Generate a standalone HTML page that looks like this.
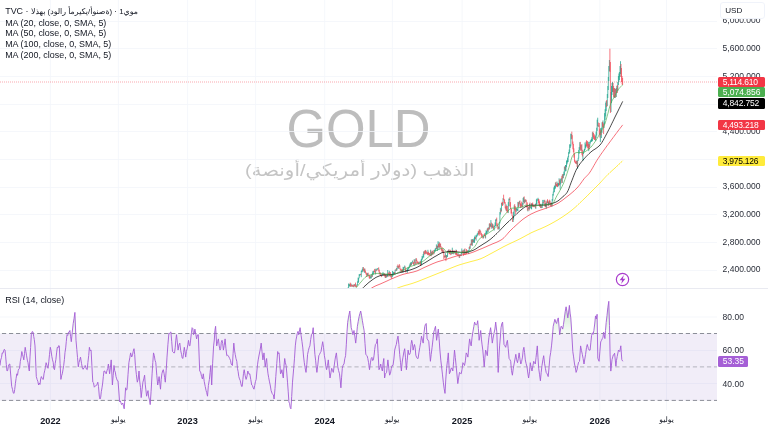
<!DOCTYPE html><html lang="ar"><head><meta charset="utf-8"><title>GOLD</title><style>
html,body{margin:0;padding:0;background:#fff}
body{width:768px;height:429px;overflow:hidden;position:relative;font-family:"Liberation Sans","DejaVu Sans",sans-serif;color:#131722}
.t{position:absolute;white-space:nowrap;line-height:1;will-change:opacity}
.ax{font-size:8.5px;left:722.6px;color:#2a2e39}
.lb{will-change:opacity;position:absolute;left:717.6px;width:47.5px;border-radius:1.5px;font-size:8.5px;line-height:1;color:#fff;box-sizing:border-box;padding-left:5.1px;white-space:nowrap}
.leg{font-size:8.93px;left:5.2px;color:#131722}
.tm{font-size:8.5px;color:#131722;transform:translateX(-50%)}
.tm b{font-weight:700;font-size:9.2px}
.wm{color:#bdbdbd;left:0;width:717px;text-align:center}
</style></head><body>
<div class="t wm" style="top:102.1px;font-size:50.9px;transform:scaleY(1.06);transform-origin:50% 0">GOLD</div>
<div class="t wm" dir="rtl" style="top:162.4px;left:1.2px;font-size:19.85px;color:#c4c4c4;transform:scaleY(0.87);transform-origin:50% 0">الذهب (دولار أمريكي/أونصة)</div>
<svg width="768" height="429" viewBox="0 0 768 429" style="position:absolute;left:0;top:0"><defs><clipPath id="cm"><rect x="0" y="0" width="717" height="288"/></clipPath><clipPath id="cr"><rect x="0" y="289" width="717" height="121"/></clipPath><clipPath id="c70"><rect x="0" y="289" width="717" height="44.6"/></clipPath><linearGradient id="gob" gradientUnits="userSpaceOnUse" x1="0" y1="300" x2="0" y2="333.5"><stop offset="0" stop-color="#4caf50" stop-opacity="0.35"/><stop offset="1" stop-color="#4caf50" stop-opacity="0.04"/></linearGradient></defs><path d="M50.4 0V410M118.4 0V410M187.6 0V410M255.6 0V410M324.7 0V410M392.4 0V410M462.1 0V410M529.8 0V410M599.8 0V410M666.5 0V410M0 21.5H717M0 48.5H717M0 76.5H717M0 104.5H717M0 131.5H717M0 159.5H717M0 187.5H717M0 214.5H717M0 242.5H717M0 270.5H717M0 317H717M0 350.5H717M0 383.5H717" stroke="#f3f5fa" stroke-width="0.8" fill="none"/><path d="M0 288.5H768" stroke="#e6e8ef" stroke-width="0.9"/><rect x="0" y="333.6" width="717" height="67" fill="#7e57c2" fill-opacity="0.11"/><path d="M0 333.5H717" stroke="#787b86" stroke-width="1" stroke-dasharray="4.2 2.85" stroke-dashoffset="5.1" stroke-opacity="0.85"/><path d="M0 366.9H717" stroke="#787b86" stroke-width="1" stroke-dasharray="4.2 2.85" stroke-dashoffset="5.1" stroke-opacity="0.5"/><path d="M0 400.4H717" stroke="#787b86" stroke-width="1" stroke-dasharray="4.2 2.85" stroke-dashoffset="5.1" stroke-opacity="0.85"/><g clip-path="url(#c70)"><path d="M0 365.5 L0.7 360 L1.5 357.5 L2.2 352.9 L2.9 353.3 L3.6 350.9 L4.3 349.3 L5 350 L5.7 356.9 L6.3 364.5 L7 371 L7.7 370.5 L8.4 366.2 L9.1 364.3 L9.8 364 L10.8 376 L11.7 386.4 L12.5 389.3 L13.2 392.8 L14 393.4 L14.7 389.6 L15.4 383.5 L16.1 378.4 L16.8 373.8 L17.5 375.3 L18.2 370.7 L18.9 368.8 L19.6 368.3 L20.3 361.4 L21.1 357.2 L21.8 351.5 L22.5 354.5 L23.1 356.7 L23.8 359.9 L24.5 353.5 L25.2 347.3 L25.9 351.5 L26.6 355.8 L27.3 360.1 L28 362.7 L28.6 367.1 L29.3 371 L30 356.9 L30.6 347.6 L31.3 334.7 L32.1 331.7 L33 331.9 L33.7 336.4 L34.3 339.6 L35 345.9 L36.3 376.6 L37.1 379.4 L37.8 381.3 L38.6 385 L39.3 383.1 L40 384.4 L40.7 378.6 L41.4 376.6 L42.3 378.9 L43.3 379.4 L44 373.8 L44.7 370.7 L45.4 367.6 L46.1 362.7 L47 365.4 L48 368.3 L48.8 361.7 L49.5 354.4 L50.3 347.3 L51 350.4 L51.8 356.3 L52.5 359.9 L53.2 362.3 L53.8 368.5 L54.5 369.7 L55.2 363.5 L55.9 359.3 L56.6 352.9 L57.3 347.3 L58 347.9 L58.6 345.7 L59.3 345.9 L60.1 363.7 L60.9 379.4 L61.6 375.8 L62.3 373.8 L63 369.7 L63.7 365.5 L64.4 359.5 L65 352.3 L65.7 347.9 L66.3 341.4 L67 334.7 L67.7 335.5 L68.5 332.2 L69.2 332.2 L69.9 330.5 L70.6 336.7 L71.3 341.7 L72.2 332.9 L73.2 323.5 L74.1 318.2 L74.9 312.4 L76 340.3 L76.8 349.4 L77.5 357.4 L78.3 366.9 L79 362.5 L79.8 359.9 L80.5 357.1 L81.5 363.3 L82.4 368.3 L83.1 369.3 L83.8 368 L84.5 367.4 L85.2 365.5 L85.9 367.8 L86.5 369.1 L87.2 369.7 L87.9 362.4 L88.7 355.6 L89.4 347.3 L90.2 350.7 L91.1 350.1 L91.9 365.8 L92.8 382.2 L93.5 382.8 L94.3 387.2 L95 386.4 L95.7 385.6 L96.4 385.4 L97.1 384.2 L97.8 382.2 L98.5 386.6 L99.3 396.1 L100 399 L100.7 397.2 L101.3 391.7 L102 387.8 L102.7 383 L103.3 376.7 L104 371 L104.7 371 L105.5 372.7 L106.2 373.8 L106.9 370.9 L107.7 368.5 L108.4 364 L109.6 373.8 L110.4 367.6 L111.2 359.9 L112.4 385 L113.2 375.3 L114 365.5 L114.7 370.7 L115.3 372.1 L116 376.6 L116.7 378.9 L117.3 380.6 L118 380.8 L118.8 391 L119.6 401.8 L120.3 400.8 L120.9 402.7 L121.6 404.6 L122.8 403 L123.5 406.2 L124.2 408.8 L124.9 398.9 L125.6 387.8 L126.3 390.2 L127 389.2 L128 374.8 L128.9 362.7 L129.8 357.8 L130.6 352.9 L131.7 357 L132.5 354.9 L133.2 351.3 L134 348.7 L134.7 354.5 L135.4 365.5 L136.4 374.7 L137.3 382.2 L138.2 379.1 L139 371 L139.7 381 L140.5 387.7 L141.2 397.6 L142.1 389.4 L142.9 382.2 L143.8 378.9 L144.6 375.2 L145.3 384.9 L145.9 389.9 L146.6 396.2 L147.3 393.5 L148 390.6 L148.7 397 L149.5 399.8 L150.2 404.6 L151.1 391.2 L152.1 373.8 L152.8 362.6 L153.5 352.9 L154.3 355.6 L155 360.2 L155.8 362.7 L156.8 375.4 L157.7 385 L158.4 381.5 L159.1 376.6 L159.8 383.2 L160.5 389.2 L161.2 379.5 L161.9 373.8 L162.6 371 L163.3 369.7 L164 373.2 L164.6 377.4 L165.3 382.2 L166.2 370.3 L167 357.1 L167.9 344.8 L168.9 333.3 L169.6 333.7 L170.2 332.5 L170.9 331.9 L171.7 341.3 L172.5 351.5 L173.2 352.1 L173.8 352.9 L174.5 352.9 L175.2 347.8 L175.8 340.2 L176.5 334.7 L177.3 342.1 L178.1 350.1 L178.9 345.1 L179.8 343.1 L180.7 350.5 L181.5 354.3 L182.2 358 L182.9 358.5 L183.6 352.7 L184.3 347.3 L185 351.7 L185.7 357.1 L186.4 351.5 L187.1 348.9 L187.8 344.7 L188.5 340.3 L189.2 345.5 L189.9 345.9 L190.6 340.1 L191.4 332.9 L192.1 327.7 L192.8 328.5 L193.5 334.7 L194.2 333.5 L194.9 329.1 L195.8 334.2 L196.6 338.9 L197.4 335 L198.3 334.7 L199 353 L199.7 371 L200.6 372 L201.6 376.6 L202.4 379 L203.3 373.8 L204.2 381.3 L205.2 386.4 L206 390.3 L206.7 392.7 L207.5 396.2 L208.4 385.4 L209.4 379.4 L210.1 372.3 L210.8 365.5 L211.7 385 L212.6 363.7 L213.6 345.9 L214.3 340 L214.9 330.5 L215.6 326.3 L216.7 345.9 L217.6 341.4 L218.4 338.9 L219.2 345.8 L220 350.1 L220.7 348.6 L221.3 342.3 L222 340.3 L222.7 343.5 L223.4 350.1 L224.2 345.5 L225.1 338.9 L225.9 348.2 L226.8 355.7 L227.5 355.1 L228.3 355.9 L229 357.1 L229.7 358.6 L230.5 360.4 L231.2 364 L232.4 365.5 L233.1 353.6 L233.8 343.1 L234.5 350.1 L235.2 354.3 L236 358.6 L236.8 361.3 L237.5 368.7 L238.1 371.4 L238.8 376.6 L239.5 378.9 L240.2 380.4 L240.9 383.8 L241.6 386.4 L242.2 386.4 L242.9 379.4 L243.5 373.3 L244.2 369.7 L245.1 375.3 L246.1 379.4 L246.9 376.8 L247.8 371 L248.5 372.9 L249.1 374.3 L249.8 373.8 L250.8 379.7 L251.7 385 L252.5 385.6 L253.2 387.9 L254 389.2 L254.7 385.5 L255.5 381.4 L256.2 379.4 L256.9 371 L257.5 364.8 L258.2 359.9 L259.1 355 L260.1 350.1 L261.2 343.1 L262 351.7 L262.9 359.9 L264 352.9 L265.2 366.9 L265.9 362.2 L266.6 358.5 L267.3 367.7 L268 373.8 L268.7 377.7 L269.5 381.9 L270.2 385 L271.1 390.5 L272.1 393.4 L272.8 394.4 L273.4 395 L274.1 399 L275 388.6 L275.8 376.6 L276.8 363.3 L277.7 351.5 L278.4 353.6 L279.1 352.9 L279.8 363.7 L280.5 373.8 L281.2 372.9 L281.9 369.7 L282.6 374.7 L283.3 378 L284 366 L284.7 358.5 L285.4 362.8 L286.1 365.5 L286.8 373.1 L287.5 382.2 L288.2 391.2 L288.9 401.8 L289.6 403.7 L290.2 407.3 L290.9 408.8 L291.7 396.5 L292.5 382.2 L293.7 368.3 L294.5 358.2 L295.3 345.9 L296 339.9 L296.6 336.9 L297.3 333.3 L298 331.4 L298.7 334.7 L299.4 331.1 L300.1 327.7 L301.1 335.4 L302 341.7 L302.8 347.9 L303.5 356 L304.3 362.7 L305.1 367.8 L306 372.4 L306.8 364.5 L307.6 354.3 L308.4 350.6 L309.1 347.8 L309.9 345.9 L310.7 339.5 L311.5 334.7 L312.4 333.1 L313.2 327.7 L314 342.2 L314.9 354.3 L315.6 360.2 L316.2 366.6 L316.9 372.4 L317.9 364.2 L318.8 355.7 L319.5 354.5 L320.3 352.7 L321 351.5 L321.9 346.2 L322.7 341.7 L323.5 347.3 L324.4 355.7 L325.1 359.7 L325.9 366.8 L326.6 369.7 L327.5 365.4 L328.3 359.9 L329.1 369 L330 378 L330.9 372.9 L331.7 368.3 L332.5 370.4 L333.3 372.4 L334.1 366.5 L335 359.9 L335.7 355.7 L336.4 352.9 L337.1 360.1 L337.8 366.9 L338.6 370.6 L339.5 373.8 L340.2 380 L340.9 387.8 L341.6 377.2 L342.3 368.3 L343.1 365.1 L344 364 L344.8 358.7 L345.6 355.7 L346.3 344.8 L347 331.9 L347.7 322.3 L348.4 317.9 L349.1 314.2 L349.8 311 L350.5 318.7 L351.2 327.7 L352 330.5 L352.9 334.7 L354 330.5 L354.9 336.9 L355.7 343.1 L356.5 335.9 L357.4 326.3 L358.2 321.5 L359.1 316.6 L359.9 313.6 L360.7 311 L361.5 315.2 L362.4 320.7 L363.2 325.5 L364.1 330.5 L365 343.4 L365.8 354.3 L366.5 355.3 L367.1 355.8 L367.8 358.5 L368.6 362.7 L369.5 369.7 L370.4 362.9 L371.2 358.5 L371.9 357.4 L372.7 360.6 L373.4 359.9 L374.1 355.2 L374.7 349.4 L375.4 344.5 L376.4 343.3 L377.3 338.9 L378.1 353.6 L379 369.7 L379.9 367.7 L380.7 364 L381.5 368.4 L382.4 371 L383.1 363 L383.8 358.5 L384.6 378 L385.3 374.4 L385.9 373.2 L386.6 372.4 L387.9 359.9 L388.8 368.5 L389.6 375.2 L390.5 373.2 L391.3 368.3 L392.1 365.5 L393 365.5 L393.9 359 L394.7 350.1 L395.5 346.9 L396.3 344.5 L397.1 339.9 L398 336.1 L398.9 344.6 L399.7 354.3 L400.5 362.3 L401.4 371 L402.2 362 L403 357.1 L403.9 351.8 L404.7 348.7 L405.5 357.8 L406.4 369.7 L407.2 360.4 L408.1 350.1 L408.9 354.5 L409.7 354.3 L410.4 352.6 L411 344.6 L411.7 340.3 L412.4 343.3 L413.1 350.1 L413.8 346.9 L414.5 344.5 L415.2 347.7 L415.8 355.1 L416.5 357.1 L417.3 358.4 L418.1 358.5 L419 352.1 L419.8 347.3 L420.6 342.7 L421.5 336.1 L422.4 340.2 L423.2 343.1 L424 332.9 L424.8 326.3 L425.5 324.3 L426.2 323.5 L427.1 338.9 L428 340 L428.8 341.7 L429.6 351.5 L430.4 361.3 L431.2 354.4 L432.1 347.3 L433 339.2 L433.8 331.9 L434.6 329.3 L435.5 326.3 L436.6 340.3 L437.5 334.1 L438.3 329.1 L439.1 338.6 L439.9 350.1 L440.8 360.2 L441.6 366.9 L442.5 374.9 L443.3 382.2 L444.1 388.3 L445 393.4 L445.8 379.1 L446.6 368.3 L447.5 360.4 L448.3 352.9 L449.4 373.8 L450.2 372 L451.1 368.3 L452 368.2 L452.8 371 L453.6 361.8 L454.5 350.1 L455.3 357.4 L456.1 365.5 L457 375 L457.8 383.6 L458.6 377.9 L459.5 372.4 L460.4 373.3 L461.2 373.8 L462 369.6 L462.9 362.7 L463.7 363.7 L464.5 365.5 L465.4 360.9 L466.2 352.9 L467 354.1 L467.9 357.1 L468.8 347 L469.6 338.9 L470.4 343.2 L471.2 345.9 L472 337.7 L472.9 331.9 L473.8 326.6 L474.6 322.1 L475.5 324.5 L476.3 324.9 L477 324.1 L477.7 320.7 L478.4 328.5 L479.1 340.3 L479.9 336 L480.7 330.5 L481.4 339.1 L482.1 344.9 L482.8 350.1 L483.5 358.2 L484.2 366.9 L484.9 357.8 L485.6 350.1 L486.5 352.6 L487.3 355.7 L488.1 345.3 L488.9 337.5 L489.8 332.3 L490.6 327.7 L491.5 335.2 L492.3 343.1 L493.1 338 L494 333.3 L494.9 329 L495.7 322.1 L496.8 331.9 L497.5 351.9 L498.2 372.4 L498.9 357.5 L499.6 345.9 L500.3 338 L501 327.7 L501.8 323.7 L502.6 322.1 L503.3 332.8 L504 344.5 L504.9 345.8 L505.7 347.3 L506.5 343.4 L507.4 340.3 L508.2 348.3 L509.1 358.5 L509.9 359.6 L510.7 361.3 L511.5 370.7 L512.4 375.2 L513.2 368.9 L514.1 364 L515 359 L515.8 354.3 L516.6 359.7 L517.5 362.7 L518.3 358.6 L519.1 352.9 L520 359.3 L520.8 364 L521.6 361.5 L522.5 357.1 L523.2 350 L523.9 347.3 L524.6 352.6 L525.3 359.9 L526.1 363.5 L527 366.9 L527.8 373 L528.6 378 L529.5 371.8 L530.3 362.7 L531.1 367.4 L532 371 L532.9 365.9 L533.7 361.3 L534.5 362.7 L535.3 364 L536 357.7 L536.6 352.2 L537.3 345.9 L538 357.8 L538.7 368.3 L539.5 374.2 L540.4 380.8 L541.2 372.3 L542 365.5 L542.9 359.7 L543.7 355.7 L544.5 363.2 L545.4 368.3 L546.2 372.5 L547.1 373.8 L548.2 376.6 L549 367.9 L549.9 357.1 L550.7 352.4 L551.5 345.9 L552.4 337 L553.2 326.3 L554 322.8 L554.9 319.3 L555.8 322.1 L556.6 323.5 L557.5 319.5 L558.3 317.9 L559 326.1 L559.7 334.7 L561 326.3 L561.9 326.9 L562.7 329.1 L563.5 324.3 L564.4 317.9 L565.2 311.7 L566.1 306.8 L567 312.2 L567.8 317.9 L568.6 312.1 L569.4 305.4 L570.1 313.1 L570.8 317.9 L571.7 331.9 L572.8 351.5 L573.6 356.9 L574.5 364 L575.3 367.2 L576.1 372.4 L577 369.8 L577.8 365.5 L578.6 362.2 L579.5 361.3 L580.6 345.9 L581.5 350.6 L582.3 354.3 L583.1 358.5 L584 364 L584.8 359 L585.6 354.3 L586.5 347.4 L587.3 344.5 L588.4 348.7 L589.2 350.2 L590.1 350.1 L590.9 342.2 L591.6 335.4 L592.4 332.8 L593.1 334.4 L593.9 330.5 L594.7 324 L595.5 315.9 L596.3 319 L597.1 314.3 L597.8 358.1 L598.5 360.1 L599.1 361.3 L599.9 351.2 L600.7 341.9 L601.5 340.4 L602.3 338.6 L603 337.2 L603.6 332.2 L604.9 338.6 L605.5 330.5 L606.2 322.4 L607 315.6 L607.8 307.8 L608.8 301.3 L609.5 325.7 L610.1 354.9 L610.8 371.1 L612 359.7 L613.3 354.9 L614 354.6 L614.6 353.2 L615.9 366.2 L616.5 360.3 L617.2 356.5 L618.5 350 L619.8 351.6 L620.8 345.8 L621.8 359.7 L622.8 361.3 L622.8 333.6 L0 333.6 Z" fill="url(#gob)" stroke="none"/></g><g clip-path="url(#cr)"><path d="M0 365.5 L0.7 360 L1.5 357.5 L2.2 352.9 L2.9 353.3 L3.6 350.9 L4.3 349.3 L5 350 L5.7 356.9 L6.3 364.5 L7 371 L7.7 370.5 L8.4 366.2 L9.1 364.3 L9.8 364 L10.8 376 L11.7 386.4 L12.5 389.3 L13.2 392.8 L14 393.4 L14.7 389.6 L15.4 383.5 L16.1 378.4 L16.8 373.8 L17.5 375.3 L18.2 370.7 L18.9 368.8 L19.6 368.3 L20.3 361.4 L21.1 357.2 L21.8 351.5 L22.5 354.5 L23.1 356.7 L23.8 359.9 L24.5 353.5 L25.2 347.3 L25.9 351.5 L26.6 355.8 L27.3 360.1 L28 362.7 L28.6 367.1 L29.3 371 L30 356.9 L30.6 347.6 L31.3 334.7 L32.1 331.7 L33 331.9 L33.7 336.4 L34.3 339.6 L35 345.9 L36.3 376.6 L37.1 379.4 L37.8 381.3 L38.6 385 L39.3 383.1 L40 384.4 L40.7 378.6 L41.4 376.6 L42.3 378.9 L43.3 379.4 L44 373.8 L44.7 370.7 L45.4 367.6 L46.1 362.7 L47 365.4 L48 368.3 L48.8 361.7 L49.5 354.4 L50.3 347.3 L51 350.4 L51.8 356.3 L52.5 359.9 L53.2 362.3 L53.8 368.5 L54.5 369.7 L55.2 363.5 L55.9 359.3 L56.6 352.9 L57.3 347.3 L58 347.9 L58.6 345.7 L59.3 345.9 L60.1 363.7 L60.9 379.4 L61.6 375.8 L62.3 373.8 L63 369.7 L63.7 365.5 L64.4 359.5 L65 352.3 L65.7 347.9 L66.3 341.4 L67 334.7 L67.7 335.5 L68.5 332.2 L69.2 332.2 L69.9 330.5 L70.6 336.7 L71.3 341.7 L72.2 332.9 L73.2 323.5 L74.1 318.2 L74.9 312.4 L76 340.3 L76.8 349.4 L77.5 357.4 L78.3 366.9 L79 362.5 L79.8 359.9 L80.5 357.1 L81.5 363.3 L82.4 368.3 L83.1 369.3 L83.8 368 L84.5 367.4 L85.2 365.5 L85.9 367.8 L86.5 369.1 L87.2 369.7 L87.9 362.4 L88.7 355.6 L89.4 347.3 L90.2 350.7 L91.1 350.1 L91.9 365.8 L92.8 382.2 L93.5 382.8 L94.3 387.2 L95 386.4 L95.7 385.6 L96.4 385.4 L97.1 384.2 L97.8 382.2 L98.5 386.6 L99.3 396.1 L100 399 L100.7 397.2 L101.3 391.7 L102 387.8 L102.7 383 L103.3 376.7 L104 371 L104.7 371 L105.5 372.7 L106.2 373.8 L106.9 370.9 L107.7 368.5 L108.4 364 L109.6 373.8 L110.4 367.6 L111.2 359.9 L112.4 385 L113.2 375.3 L114 365.5 L114.7 370.7 L115.3 372.1 L116 376.6 L116.7 378.9 L117.3 380.6 L118 380.8 L118.8 391 L119.6 401.8 L120.3 400.8 L120.9 402.7 L121.6 404.6 L122.8 403 L123.5 406.2 L124.2 408.8 L124.9 398.9 L125.6 387.8 L126.3 390.2 L127 389.2 L128 374.8 L128.9 362.7 L129.8 357.8 L130.6 352.9 L131.7 357 L132.5 354.9 L133.2 351.3 L134 348.7 L134.7 354.5 L135.4 365.5 L136.4 374.7 L137.3 382.2 L138.2 379.1 L139 371 L139.7 381 L140.5 387.7 L141.2 397.6 L142.1 389.4 L142.9 382.2 L143.8 378.9 L144.6 375.2 L145.3 384.9 L145.9 389.9 L146.6 396.2 L147.3 393.5 L148 390.6 L148.7 397 L149.5 399.8 L150.2 404.6 L151.1 391.2 L152.1 373.8 L152.8 362.6 L153.5 352.9 L154.3 355.6 L155 360.2 L155.8 362.7 L156.8 375.4 L157.7 385 L158.4 381.5 L159.1 376.6 L159.8 383.2 L160.5 389.2 L161.2 379.5 L161.9 373.8 L162.6 371 L163.3 369.7 L164 373.2 L164.6 377.4 L165.3 382.2 L166.2 370.3 L167 357.1 L167.9 344.8 L168.9 333.3 L169.6 333.7 L170.2 332.5 L170.9 331.9 L171.7 341.3 L172.5 351.5 L173.2 352.1 L173.8 352.9 L174.5 352.9 L175.2 347.8 L175.8 340.2 L176.5 334.7 L177.3 342.1 L178.1 350.1 L178.9 345.1 L179.8 343.1 L180.7 350.5 L181.5 354.3 L182.2 358 L182.9 358.5 L183.6 352.7 L184.3 347.3 L185 351.7 L185.7 357.1 L186.4 351.5 L187.1 348.9 L187.8 344.7 L188.5 340.3 L189.2 345.5 L189.9 345.9 L190.6 340.1 L191.4 332.9 L192.1 327.7 L192.8 328.5 L193.5 334.7 L194.2 333.5 L194.9 329.1 L195.8 334.2 L196.6 338.9 L197.4 335 L198.3 334.7 L199 353 L199.7 371 L200.6 372 L201.6 376.6 L202.4 379 L203.3 373.8 L204.2 381.3 L205.2 386.4 L206 390.3 L206.7 392.7 L207.5 396.2 L208.4 385.4 L209.4 379.4 L210.1 372.3 L210.8 365.5 L211.7 385 L212.6 363.7 L213.6 345.9 L214.3 340 L214.9 330.5 L215.6 326.3 L216.7 345.9 L217.6 341.4 L218.4 338.9 L219.2 345.8 L220 350.1 L220.7 348.6 L221.3 342.3 L222 340.3 L222.7 343.5 L223.4 350.1 L224.2 345.5 L225.1 338.9 L225.9 348.2 L226.8 355.7 L227.5 355.1 L228.3 355.9 L229 357.1 L229.7 358.6 L230.5 360.4 L231.2 364 L232.4 365.5 L233.1 353.6 L233.8 343.1 L234.5 350.1 L235.2 354.3 L236 358.6 L236.8 361.3 L237.5 368.7 L238.1 371.4 L238.8 376.6 L239.5 378.9 L240.2 380.4 L240.9 383.8 L241.6 386.4 L242.2 386.4 L242.9 379.4 L243.5 373.3 L244.2 369.7 L245.1 375.3 L246.1 379.4 L246.9 376.8 L247.8 371 L248.5 372.9 L249.1 374.3 L249.8 373.8 L250.8 379.7 L251.7 385 L252.5 385.6 L253.2 387.9 L254 389.2 L254.7 385.5 L255.5 381.4 L256.2 379.4 L256.9 371 L257.5 364.8 L258.2 359.9 L259.1 355 L260.1 350.1 L261.2 343.1 L262 351.7 L262.9 359.9 L264 352.9 L265.2 366.9 L265.9 362.2 L266.6 358.5 L267.3 367.7 L268 373.8 L268.7 377.7 L269.5 381.9 L270.2 385 L271.1 390.5 L272.1 393.4 L272.8 394.4 L273.4 395 L274.1 399 L275 388.6 L275.8 376.6 L276.8 363.3 L277.7 351.5 L278.4 353.6 L279.1 352.9 L279.8 363.7 L280.5 373.8 L281.2 372.9 L281.9 369.7 L282.6 374.7 L283.3 378 L284 366 L284.7 358.5 L285.4 362.8 L286.1 365.5 L286.8 373.1 L287.5 382.2 L288.2 391.2 L288.9 401.8 L289.6 403.7 L290.2 407.3 L290.9 408.8 L291.7 396.5 L292.5 382.2 L293.7 368.3 L294.5 358.2 L295.3 345.9 L296 339.9 L296.6 336.9 L297.3 333.3 L298 331.4 L298.7 334.7 L299.4 331.1 L300.1 327.7 L301.1 335.4 L302 341.7 L302.8 347.9 L303.5 356 L304.3 362.7 L305.1 367.8 L306 372.4 L306.8 364.5 L307.6 354.3 L308.4 350.6 L309.1 347.8 L309.9 345.9 L310.7 339.5 L311.5 334.7 L312.4 333.1 L313.2 327.7 L314 342.2 L314.9 354.3 L315.6 360.2 L316.2 366.6 L316.9 372.4 L317.9 364.2 L318.8 355.7 L319.5 354.5 L320.3 352.7 L321 351.5 L321.9 346.2 L322.7 341.7 L323.5 347.3 L324.4 355.7 L325.1 359.7 L325.9 366.8 L326.6 369.7 L327.5 365.4 L328.3 359.9 L329.1 369 L330 378 L330.9 372.9 L331.7 368.3 L332.5 370.4 L333.3 372.4 L334.1 366.5 L335 359.9 L335.7 355.7 L336.4 352.9 L337.1 360.1 L337.8 366.9 L338.6 370.6 L339.5 373.8 L340.2 380 L340.9 387.8 L341.6 377.2 L342.3 368.3 L343.1 365.1 L344 364 L344.8 358.7 L345.6 355.7 L346.3 344.8 L347 331.9 L347.7 322.3 L348.4 317.9 L349.1 314.2 L349.8 311 L350.5 318.7 L351.2 327.7 L352 330.5 L352.9 334.7 L354 330.5 L354.9 336.9 L355.7 343.1 L356.5 335.9 L357.4 326.3 L358.2 321.5 L359.1 316.6 L359.9 313.6 L360.7 311 L361.5 315.2 L362.4 320.7 L363.2 325.5 L364.1 330.5 L365 343.4 L365.8 354.3 L366.5 355.3 L367.1 355.8 L367.8 358.5 L368.6 362.7 L369.5 369.7 L370.4 362.9 L371.2 358.5 L371.9 357.4 L372.7 360.6 L373.4 359.9 L374.1 355.2 L374.7 349.4 L375.4 344.5 L376.4 343.3 L377.3 338.9 L378.1 353.6 L379 369.7 L379.9 367.7 L380.7 364 L381.5 368.4 L382.4 371 L383.1 363 L383.8 358.5 L384.6 378 L385.3 374.4 L385.9 373.2 L386.6 372.4 L387.9 359.9 L388.8 368.5 L389.6 375.2 L390.5 373.2 L391.3 368.3 L392.1 365.5 L393 365.5 L393.9 359 L394.7 350.1 L395.5 346.9 L396.3 344.5 L397.1 339.9 L398 336.1 L398.9 344.6 L399.7 354.3 L400.5 362.3 L401.4 371 L402.2 362 L403 357.1 L403.9 351.8 L404.7 348.7 L405.5 357.8 L406.4 369.7 L407.2 360.4 L408.1 350.1 L408.9 354.5 L409.7 354.3 L410.4 352.6 L411 344.6 L411.7 340.3 L412.4 343.3 L413.1 350.1 L413.8 346.9 L414.5 344.5 L415.2 347.7 L415.8 355.1 L416.5 357.1 L417.3 358.4 L418.1 358.5 L419 352.1 L419.8 347.3 L420.6 342.7 L421.5 336.1 L422.4 340.2 L423.2 343.1 L424 332.9 L424.8 326.3 L425.5 324.3 L426.2 323.5 L427.1 338.9 L428 340 L428.8 341.7 L429.6 351.5 L430.4 361.3 L431.2 354.4 L432.1 347.3 L433 339.2 L433.8 331.9 L434.6 329.3 L435.5 326.3 L436.6 340.3 L437.5 334.1 L438.3 329.1 L439.1 338.6 L439.9 350.1 L440.8 360.2 L441.6 366.9 L442.5 374.9 L443.3 382.2 L444.1 388.3 L445 393.4 L445.8 379.1 L446.6 368.3 L447.5 360.4 L448.3 352.9 L449.4 373.8 L450.2 372 L451.1 368.3 L452 368.2 L452.8 371 L453.6 361.8 L454.5 350.1 L455.3 357.4 L456.1 365.5 L457 375 L457.8 383.6 L458.6 377.9 L459.5 372.4 L460.4 373.3 L461.2 373.8 L462 369.6 L462.9 362.7 L463.7 363.7 L464.5 365.5 L465.4 360.9 L466.2 352.9 L467 354.1 L467.9 357.1 L468.8 347 L469.6 338.9 L470.4 343.2 L471.2 345.9 L472 337.7 L472.9 331.9 L473.8 326.6 L474.6 322.1 L475.5 324.5 L476.3 324.9 L477 324.1 L477.7 320.7 L478.4 328.5 L479.1 340.3 L479.9 336 L480.7 330.5 L481.4 339.1 L482.1 344.9 L482.8 350.1 L483.5 358.2 L484.2 366.9 L484.9 357.8 L485.6 350.1 L486.5 352.6 L487.3 355.7 L488.1 345.3 L488.9 337.5 L489.8 332.3 L490.6 327.7 L491.5 335.2 L492.3 343.1 L493.1 338 L494 333.3 L494.9 329 L495.7 322.1 L496.8 331.9 L497.5 351.9 L498.2 372.4 L498.9 357.5 L499.6 345.9 L500.3 338 L501 327.7 L501.8 323.7 L502.6 322.1 L503.3 332.8 L504 344.5 L504.9 345.8 L505.7 347.3 L506.5 343.4 L507.4 340.3 L508.2 348.3 L509.1 358.5 L509.9 359.6 L510.7 361.3 L511.5 370.7 L512.4 375.2 L513.2 368.9 L514.1 364 L515 359 L515.8 354.3 L516.6 359.7 L517.5 362.7 L518.3 358.6 L519.1 352.9 L520 359.3 L520.8 364 L521.6 361.5 L522.5 357.1 L523.2 350 L523.9 347.3 L524.6 352.6 L525.3 359.9 L526.1 363.5 L527 366.9 L527.8 373 L528.6 378 L529.5 371.8 L530.3 362.7 L531.1 367.4 L532 371 L532.9 365.9 L533.7 361.3 L534.5 362.7 L535.3 364 L536 357.7 L536.6 352.2 L537.3 345.9 L538 357.8 L538.7 368.3 L539.5 374.2 L540.4 380.8 L541.2 372.3 L542 365.5 L542.9 359.7 L543.7 355.7 L544.5 363.2 L545.4 368.3 L546.2 372.5 L547.1 373.8 L548.2 376.6 L549 367.9 L549.9 357.1 L550.7 352.4 L551.5 345.9 L552.4 337 L553.2 326.3 L554 322.8 L554.9 319.3 L555.8 322.1 L556.6 323.5 L557.5 319.5 L558.3 317.9 L559 326.1 L559.7 334.7 L561 326.3 L561.9 326.9 L562.7 329.1 L563.5 324.3 L564.4 317.9 L565.2 311.7 L566.1 306.8 L567 312.2 L567.8 317.9 L568.6 312.1 L569.4 305.4 L570.1 313.1 L570.8 317.9 L571.7 331.9 L572.8 351.5 L573.6 356.9 L574.5 364 L575.3 367.2 L576.1 372.4 L577 369.8 L577.8 365.5 L578.6 362.2 L579.5 361.3 L580.6 345.9 L581.5 350.6 L582.3 354.3 L583.1 358.5 L584 364 L584.8 359 L585.6 354.3 L586.5 347.4 L587.3 344.5 L588.4 348.7 L589.2 350.2 L590.1 350.1 L590.9 342.2 L591.6 335.4 L592.4 332.8 L593.1 334.4 L593.9 330.5 L594.7 324 L595.5 315.9 L596.3 319 L597.1 314.3 L597.8 358.1 L598.5 360.1 L599.1 361.3 L599.9 351.2 L600.7 341.9 L601.5 340.4 L602.3 338.6 L603 337.2 L603.6 332.2 L604.9 338.6 L605.5 330.5 L606.2 322.4 L607 315.6 L607.8 307.8 L608.8 301.3 L609.5 325.7 L610.1 354.9 L610.8 371.1 L612 359.7 L613.3 354.9 L614 354.6 L614.6 353.2 L615.9 366.2 L616.5 360.3 L617.2 356.5 L618.5 350 L619.8 351.6 L620.8 345.8 L621.8 359.7 L622.8 361.3" fill="none" stroke="#a55fd6" stroke-width="0.92" stroke-linejoin="round"/></g><g clip-path="url(#cm)"><path d="M340.1 294.1V295.8M341.2 294.4V296.5M341.7 294V295.2M342.2 292.9V294.6M343.8 293.2V294.5M344.9 291.6V294.1M345.4 291.5V293M345.9 290.6V293.3M346.5 288.9V291.9M347.5 289.1V292M348 287.5V289.9M348.6 283.5V288.6M349.1 283.9V286.5M349.6 284.4V286.4M351.2 283.8V286.6M352.3 285.3V286.5M353.9 284.4V287.3M354.9 284V286M356 285.9V286.6M357 284.2V286.4M357.6 281.3V285.2M358.1 277.6V282.6M358.6 277.8V282.7M359.2 274.1V278.3M359.7 274.5V276.2M360.2 273.9V275M361.3 271V277.2M361.8 270.2V271.9M362.3 268.8V272.3M362.9 267.1V270.7M364.4 268.5V272.9M367.1 273.8V275.1M367.6 272.9V276.1M370.3 275.5V278.6M370.8 276.8V277.8M371.3 274.4V278.5M372.4 272.7V276.8M372.9 271.1V274.7M373.4 270.8V274.4M375.6 269.3V274.5M376.1 268.4V270.2M377.1 269.3V270.3M377.7 268V269.7M378.2 268.4V268.9M379.8 272.4V273.7M381.9 274.3V276.2M382.4 273.7V275.5M383 271.9V274.2M384 273.2V275.3M385.6 274.8V278M386.7 275.6V277.5M387.2 273.6V277M387.7 270V276.1M389.3 270.8V276.1M390.9 273.9V277.3M392 274.4V277.4M392.5 270.9V276.6M393 274V275.6M393.5 271.8V274.5M394.1 272.5V274.6M395.1 269.7V273.2M395.7 269.6V270.6M396.7 268V270.9M397.2 265.9V269.5M398.8 265.5V268.9M402 269.6V272.6M403.1 266.8V272.5M403.6 267.3V270.6M404.1 267.4V268.2M404.7 265.5V268.2M406.2 270V271.3M406.8 270.2V270.9M407.3 268.8V272.9M407.8 267.6V270.6M408.4 267.3V269.5M408.9 266.8V268.5M409.4 265.4V267.9M409.9 263.6V266.6M410.5 262.4V266.1M411.5 262.2V265.2M412.1 261.8V263.8M412.6 260.5V262.3M414.2 259.1V266M415.8 258.5V264.3M418.4 262.3V264.1M419.5 262.7V263.8M420 261.2V263.1M421.1 259.6V265.5M421.6 258.7V264.5M422.1 255.9V260.1M422.6 256.5V258.8M423.2 254V257.1M423.7 251.5V257.8M425.3 250.2V254.1M427.9 249.8V255.2M430.6 249.7V256M431.6 252.2V255.6M432.7 250.9V254.8M434.3 249.8V253.5M434.8 249.8V251.7M435.3 248.3V251M435.9 247.8V251M436.4 244.4V249M437.5 245.7V251M438 241.2V247.3M439 241.8V250.1M440.1 243.9V247.6M442.7 249.6V252.2M444.3 255.8V257.5M445.4 253.2V257M446.4 255V258.5M447 255.3V257.2M447.5 250.9V256.8M448.6 249.6V251.8M450.1 250.3V253.8M451.2 253.3V254.6M451.7 251.7V253.9M452.3 247.7V253.8M453.3 251.8V254.3M453.8 250.8V253.4M454.9 251.4V253.7M456 249.6V254.4M458.1 252.6V256.2M459.7 254.6V257.9M460.2 254.3V255.9M461.3 253V256M461.8 248.5V253.7M462.8 250.6V253.1M463.9 249.6V253.6M464.4 249.3V253.9M466 251.5V253.5M467.1 250.5V253M468.1 250.7V251.9M468.7 250V254.1M469.2 247.1V250.9M470.2 243.8V248.7M471.3 239.4V245M472.4 239V245.7M473.4 239.4V242.6M474 238.4V242.7M474.5 236.8V242.8M475 235.6V238.9M476.1 234.9V240.6M476.6 235.5V237.3M477.1 233.7V236.4M477.7 233.2V235.5M478.2 231.4V234M479.8 229.5V234M483.5 235.8V238.3M484 234.2V236.1M485.6 232.7V238.5M486.1 230.2V233.8M486.6 231V234.1M487.2 228.7V233.4M488.2 227.2V232.3M489.3 223.7V229.5M490.4 224.1V226.7M490.9 220.1V226.6M491.9 225.5V228.9M492.5 223.5V227.8M494.1 225.4V230.6M494.6 226.2V227.5M495.1 222.4V226.7M495.6 219.5V226M496.2 218.9V221.1M498.3 226.3V229.4M499.3 222.1V229.7M499.9 212.1V223.4M500.4 207.8V214.5M501.5 203V211.4M503 198.2V205.2M506.2 204.5V210.9M508.3 202.1V213.1M508.9 198.6V206.1M509.4 198.6V200.1M513.1 216V222M513.6 211.7V219.7M514.2 205.4V215.7M516.3 208V211.8M516.8 208.7V210.1M517.3 208.9V210.8M517.9 201.9V211.1M518.9 202.7V206.8M519.4 201V203.7M521 203.8V207.3M522.6 202.7V207.2M523.1 197.9V204.7M523.7 197.1V202M524.7 199.6V203.1M525.3 199.6V202M527.9 208.4V211.4M528.4 207V209.2M529.5 203.7V209.5M530.6 206.3V207.9M531.1 205.4V209M531.6 203.2V209.4M534.3 205.7V206.8M534.8 205.2V206.4M535.8 203.4V208.9M536.4 199.4V204.6M536.9 198.6V204.1M537.4 199.6V200.3M538 197.8V200.9M540.6 203.8V208M541.7 206.3V207.9M542.2 203.6V207.9M542.7 199.9V205.3M543.8 199.9V203.9M544.3 200.5V201.8M545.4 203V207.2M546.4 202.5V208.7M547 200.5V203.5M548.5 201.8V205.7M549.1 201V204.7M551.2 202.5V206.7M552.2 199V206.4M552.8 193.9V200.9M553.3 191.6V195.6M553.8 187.4V192.5M554.4 185.7V192.1M554.9 185.6V189.2M555.4 182.6V188.4M557 181.5V186.8M558.1 183.4V186.7M558.6 182.9V185.9M559.1 178.3V185M560.2 180.6V189.5M560.7 178.9V184.3M561.2 178.1V180.7M562.3 174.6V182.9M563.4 173.9V178.2M563.9 171.6V175.6M564.4 166.7V175.3M565.5 165V171.4M566 165V171.2M566.5 160.6V167.2M567.1 160.2V164.4M567.6 157.7V162.5M568.1 156.3V162M568.6 152.1V157.3M569.2 149.5V153.9M569.7 144.3V152.7M570.2 144.5V148M570.8 133.6V146.4M571.3 134V139.3M576.6 160.6V164.1M577.6 160.3V168.8M578.2 157.8V161M578.7 150.1V158.5M579.2 147.1V153.8M579.8 142.2V150.1M581.3 144.7V150.5M582.9 152.9V160.7M583.5 151.4V153.9M584 149.7V152.6M584.5 148.8V151.2M585 142.5V150M585.6 144.4V148.4M586.1 141.6V147.3M588.7 142V151.1M589.8 141.9V147.2M590.3 140.7V143.5M590.9 139.8V141.9M591.4 138.9V141.9M591.9 137.2V141.2M592.4 132.2V141.2M595.6 135.5V141.1M596.1 131.6V138.3M596.7 127.7V135.6M597.2 119.7V130.9M597.7 117.7V126.3M598.8 125.4V126.8M600.4 128.2V142M601.4 127.7V138M602 122.3V132.8M603 120.4V128.4M604.1 122.4V127.9M604.6 113.1V124.4M605.1 109.2V120M605.7 102.6V116.4M606.2 101V111M607.3 94V106M607.8 86V98M608.3 77V90M608.8 66V81M609.4 60V71M611 92V112M611.5 86V103M612 83V95M612.5 82V92M614.1 88V98M615.2 89V98M616.3 88V97M616.8 86V93M617.8 82V91M618.4 76V85M618.9 73.5V82M619.4 72V80M620 66V77M620.5 61.2V74" stroke="#089981" stroke-width="0.68" fill="none"/><path d="M340.6 293V295.6M342.8 292.5V294.2M343.3 291.8V295.8M344.3 292.9V294.8M347 288.2V290.5M350.2 282.6V286M350.7 283.4V287M351.8 285V286.4M352.8 284.5V286.7M353.3 285.3V286.9M354.4 284.5V286.4M355.5 282.6V286.9M356.5 285.4V287.1M360.7 273.9V275.2M363.4 267.1V270.5M363.9 269.3V271.9M365 268.6V271.7M365.5 270.7V273.2M366 272.3V274.5M366.6 272.9V277M368.2 272.7V276.3M368.7 274.6V275.4M369.2 275.4V278.3M369.7 274.9V278.8M371.9 274.6V277.2M374 270.7V271.6M374.5 268.9V272.2M375 270.9V273.9M376.6 269.4V271.2M378.7 267.3V271.5M379.3 269.6V274.5M380.3 272.4V274.9M380.8 272.9V275.5M381.4 275.3V277.1M383.5 273.8V275.6M384.6 273.5V276.4M385.1 274.3V277.8M386.1 274.7V277.5M388.3 272.6V274.1M388.8 272.8V276.8M389.8 272.2V275.6M390.4 272.1V276.5M391.4 273.8V278.8M394.6 271.9V273.8M396.2 268.7V270.7M397.8 264.5V267.5M398.3 265.9V268.3M399.4 264.1V266.9M399.9 265.5V269.3M400.4 268.9V271.2M400.9 268.5V269.8M401.5 269.5V272.2M402.5 269.2V272.1M405.2 266.5V270.6M405.7 268.7V272.4M411 263.5V265.6M413.1 261.8V264M413.6 262.3V264.9M414.7 259.7V262.7M415.2 262.1V265.1M416.3 258.1V261M416.8 259.7V264M417.3 261.6V263.4M417.9 261.2V263.8M418.9 262V264.8M420.5 261.1V266M424.2 251.2V254.3M424.8 250.6V254.5M425.8 249.9V253M426.3 251.2V253.8M426.9 252.3V254.1M427.4 252.3V254.8M428.5 251.7V255.3M429 252.9V254.4M429.5 253V255.7M430 254.5V255.6M431.1 250.7V256.3M432.2 251.6V254.7M433.2 250.2V253.3M433.7 252.6V254.4M436.9 245.8V249M438.5 243.8V247.5M439.6 242.6V247.5M440.6 243.5V247.3M441.2 246.4V250.2M441.7 248.5V251.2M442.2 247.4V252.7M443.3 249.4V253M443.8 251.6V259.1M444.9 255.2V257.8M445.9 255.5V261.1M448 250.5V251.9M449.1 249.4V254.4M449.6 251.2V253.9M450.7 249.8V255.1M452.8 249.9V254M454.4 250.5V253M455.4 251.3V254.8M456.5 250V254.9M457 253V255.4M457.6 254.4V255.7M458.6 254.5V255.3M459.1 254.6V257.7M460.7 255V256.1M462.3 250.6V253.6M463.4 250.4V255.9M465 248.3V255.1M465.5 251.9V253.5M466.5 249.1V254M467.6 250.3V252.4M469.7 246.2V249M470.8 243.6V245.4M471.8 239.5V245.6M472.9 239.9V242.2M475.5 237.1V239.2M478.7 230.9V234.8M479.2 229.4V235.7M480.3 230.4V232.4M480.8 231.5V235M481.4 233V237.5M481.9 234.5V235.7M482.4 234.4V237.5M482.9 237.1V238.6M484.5 233.3V236.1M485.1 234.9V237.5M487.7 228.1V231.2M488.8 227.7V229.7M489.8 223V228.7M491.4 222.6V227.5M493 224.3V227.5M493.5 226.5V229.2M496.7 217.6V226M497.2 223.2V226.2M497.8 224.6V229.4M498.8 227.1V228.5M500.9 209.4V212.4M502 201.8V204.7M502.5 202.3V206M503.6 194.7V200.1M504.1 198.9V203.4M504.6 199.6V203.5M505.2 202.1V208.3M505.7 206.4V209.6M506.7 206V211.5M507.3 205.9V213M507.8 209.8V211.8M509.9 197.1V206.5M510.5 202.1V209.2M511 208.7V213.6M511.5 208.8V213.4M512 212.2V216M512.6 215.5V221.9M514.7 204.1V210.2M515.2 206V211.6M515.7 207.7V214M518.4 202.1V207.1M520 200.4V205.4M520.5 203.3V208M521.6 201.6V206.6M522.1 204.7V207.6M524.2 196.4V203.5M525.8 199.3V201.4M526.3 200.2V207.5M526.9 206.5V206.8M527.4 202.4V210.5M529 205.6V210.8M530 202.5V207.6M532.1 203.2V205.9M532.7 202.5V206.9M533.2 204.9V207.2M533.7 205.1V207M535.3 204.3V208.1M538.5 198.9V203.3M539 199.3V204.7M539.5 201.3V206.5M540.1 204.3V207.1M541.1 204.6V208.2M543.2 202V203M544.8 199.8V206.5M545.9 201.1V207.2M547.5 199.2V203M548 200.3V206.2M549.6 199.7V203M550.1 200.7V205.6M550.7 203.2V205.9M551.7 202.7V205.5M555.9 181.9V186.4M556.5 184V186.4M557.5 183.1V187.1M559.6 179.5V185.3M561.8 176.1V183M562.8 174V178.4M564.9 166.3V169.7M571.8 131.6V138.7M572.3 135.2V144.4M572.9 141.5V149.3M573.4 143.9V152.1M573.9 148.4V157.6M574.5 153.2V161.8M575 160V162.9M575.5 161.7V163.3M576 161V164M577.1 160.8V167M580.3 141.9V149.6M580.8 144.7V151M581.9 144.2V154.7M582.4 149.8V156.5M586.6 140.1V146.2M587.2 141.5V146.5M587.7 141.1V148.1M588.2 143.8V149M589.3 144.2V149.4M593 131.4V136.9M593.5 133V138.8M594 135.9V139.4M594.6 134.4V140M595.1 137.2V140.1M598.3 122.5V126.6M599.3 123V134.5M599.9 129.2V137.5M600.9 130.2V135M602.5 121.8V127.3M603.6 123.6V134.1M606.7 100V107M609.9 48.7V72M610.4 62V113M613.1 83V92M613.6 86V97M614.7 88V98M615.7 89V97M617.3 85V93M621 64V77M621.5 68V82M622.1 76V84.5M622.6 78V85" stroke="#f23645" stroke-width="0.68" fill="none"/><path d="M380 297 L381 296.4 L382 295.8 L383 295.2 L384 294.7 L385 294.1 L386 293.6 L387 293 L388 292.5 L389 292 L390 291.5 L391 291 L392 290.5 L393 290.1 L394 289.6 L395 289.1 L396 288.7 L397 288.3 L398 287.9 L399 287.5 L400 287.1 L401 286.8 L402 286.5 L403 286.1 L404 285.8 L405 285.5 L406 285.2 L407 285 L408 284.7 L409 284.4 L410 284.1 L411 283.8 L412 283.5 L413 283.2 L414 282.8 L415 282.5 L416 282.1 L417 281.8 L418 281.4 L419 281 L420 280.6 L421 280.2 L422 279.8 L423 279.4 L424 279 L425 278.6 L426 278.2 L427 277.8 L428 277.4 L429 277 L430 276.6 L431 276.2 L432 275.8 L433 275.4 L434 275 L435 274.6 L436 274.2 L437 273.8 L438 273.4 L439 273 L440 272.6 L441 272.2 L442 271.8 L443 271.4 L444 271 L445 270.6 L446 270.2 L447 269.8 L448 269.4 L449 269 L450 268.5 L451 268.1 L452 267.7 L453 267.3 L454 266.9 L455 266.5 L456 266.1 L457 265.7 L458 265.4 L459 265 L460 264.7 L461 264.4 L462 264.1 L463 263.8 L464 263.5 L465 263.2 L466 262.9 L467 262.7 L468 262.4 L469 262.1 L470 261.8 L471 261.5 L472 261.3 L473 261 L474 260.8 L475 260.5 L476 260.2 L477 260 L478 259.7 L479 259.3 L480 259 L481 258.6 L482 258.2 L483 257.7 L484 257.3 L485 256.8 L486 256.2 L487 255.7 L488 255.2 L489 254.6 L490 254.1 L491 253.5 L492 253 L493 252.5 L494 251.9 L495 251.4 L496 250.9 L497 250.3 L498 249.8 L499 249.2 L500 248.7 L501 248.1 L502 247.6 L503 247 L504 246.5 L505 246 L506 245.5 L507 245 L508 244.5 L509 244 L510 243.6 L511 243.1 L512 242.6 L513 242.2 L514 241.7 L515 241.2 L516 240.8 L517 240.3 L518 239.8 L519 239.3 L520 238.8 L521 238.3 L522 237.7 L523 237.2 L524 236.7 L525 236.1 L526 235.6 L527 235 L528 234.5 L529 234 L530 233.4 L531 232.9 L532 232.4 L533 232 L534 231.5 L535 231.1 L536 230.7 L537 230.2 L538 229.8 L539 229.4 L540 229 L541 228.6 L542 228.1 L543 227.7 L544 227.2 L545 226.8 L546 226.3 L547 225.8 L548 225.3 L549 224.8 L550 224.3 L551 223.7 L552 223.2 L553 222.6 L554 222.1 L555 221.5 L556 220.9 L557 220.4 L558 219.8 L559 219.1 L560 218.5 L561 217.9 L562 217.2 L563 216.6 L564 215.9 L565 215.2 L566 214.5 L567 213.8 L568 213.1 L569 212.3 L570 211.6 L571 210.8 L572 210 L573 209.2 L574 208.3 L575 207.5 L576 206.6 L577 205.7 L578 204.7 L579 203.8 L580 202.8 L581 201.9 L582 200.9 L583 199.9 L584 199 L585 198 L586 197 L587 196.1 L588 195.1 L589 194 L590 193 L591 192 L592 191 L593 190 L594 189 L595 188 L596 187 L597 186 L598 185 L599 184 L600 183 L601 181.9 L602 180.8 L603 179.7 L604 178.6 L605 177.5 L606 176.4 L607 175.4 L608 174.4 L609 173.5 L610 172.5 L611 171.6 L612 170.7 L613 169.8 L614 168.9 L615 168 L616 167.1 L617 166.1 L618 165.2 L619 164.2 L620 163.3 L621 162.3 L622 161.4 L622.7 160.7" fill="none" stroke="#ffeb3b" stroke-width="0.92" stroke-linejoin="round"/><path d="M355 303 L356 302.1 L357 301.2 L358 300.3 L359 299.4 L360 298.5 L361 297.6 L362 296.7 L363 295.8 L364 294.9 L365 294 L366 293.1 L367 292.1 L368 291.2 L369 290.3 L370 289.4 L371 288.5 L372 287.8 L373 287.2 L374 286.7 L375 286.2 L376 285.7 L377 285.3 L378 284.9 L379 284.5 L380 284.1 L381 283.7 L382 283.2 L383 282.8 L384 282.3 L385 281.9 L386 281.4 L387 281 L388 280.5 L389 280 L390 279.6 L391 279.1 L392 278.7 L393 278.3 L394 277.9 L395 277.4 L396 277 L397 276.6 L398 276.2 L399 275.8 L400 275.4 L401 275.1 L402 274.7 L403 274.4 L404 274.1 L405 273.9 L406 273.6 L407 273.4 L408 273.2 L409 273 L410 272.7 L411 272.5 L412 272.3 L413 272.1 L414 271.8 L415 271.5 L416 271.2 L417 270.9 L418 270.5 L419 270 L420 269.6 L421 269.1 L422 268.6 L423 268.1 L424 267.6 L425 267.2 L426 266.7 L427 266.3 L428 265.8 L429 265.4 L430 264.9 L431 264.5 L432 264 L433 263.6 L434 263.2 L435 262.8 L436 262.4 L437 262 L438 261.7 L439 261.4 L440 261.1 L441 260.8 L442 260.5 L443 260.2 L444 259.9 L445 259.6 L446 259.4 L447 259.1 L448 258.8 L449 258.4 L450 258.1 L451 257.8 L452 257.4 L453 257.1 L454 256.8 L455 256.5 L456 256.2 L457 255.9 L458 255.7 L459 255.5 L460 255.2 L461 255.1 L462 254.9 L463 254.7 L464 254.5 L465 254.4 L466 254.2 L467 254 L468 253.7 L469 253.5 L470 253.2 L471 252.9 L472 252.5 L473 252.2 L474 251.8 L475 251.4 L476 251 L477 250.5 L478 250.1 L479 249.7 L480 249.3 L481 248.9 L482 248.5 L483 248.1 L484 247.6 L485 247.2 L486 246.8 L487 246.3 L488 245.9 L489 245.4 L490 245 L491 244.6 L492 244.1 L493 243.7 L494 243.3 L495 242.9 L496 242.5 L497 242.1 L498 241.6 L499 241.1 L500 240.6 L501 240 L502 239.4 L503 238.6 L504 237.7 L505 236.7 L506 235.5 L507 234.4 L508 233.2 L509 232 L510 231 L511 230 L512 229 L513 228.1 L514 227.1 L515 226.2 L516 225.3 L517 224.4 L518 223.5 L519 222.6 L520 221.7 L521 220.9 L522 220 L523 219.2 L524 218.5 L525 217.8 L526 217.1 L527 216.5 L528 215.8 L529 215.2 L530 214.7 L531 214.1 L532 213.6 L533 213.2 L534 212.7 L535 212.2 L536 211.8 L537 211.4 L538 211 L539 210.6 L540 210.3 L541 209.9 L542 209.6 L543 209.3 L544 208.9 L545 208.6 L546 208.2 L547 207.9 L548 207.5 L549 207.1 L550 206.8 L551 206.4 L552 206 L553 205.6 L554 205.2 L555 204.7 L556 204.3 L557 203.7 L558 203.2 L559 202.6 L560 201.9 L561 201.2 L562 200.5 L563 199.8 L564 199 L565 198.2 L566 197.4 L567 196.7 L568 195.9 L569 195.1 L570 194.3 L571 193.5 L572 192.6 L573 191.8 L574 190.9 L575 189.9 L576 189 L577 188 L578 186.9 L579 185.7 L580 184.4 L581 183 L582 181.6 L583 180.2 L584 178.8 L585 177.7 L586 176.7 L587 175.7 L588 174.7 L589 173.5 L590 172.1 L591 170.6 L592 168.9 L593 167.2 L594 165.4 L595 163.7 L596 161.9 L597 160.2 L598 158.7 L599 157.1 L600 155.7 L601 154.2 L602 152.8 L603 151.4 L604 150 L605 148.6 L606 147.2 L607 145.8 L608 144.5 L609 143.1 L610 141.8 L611 140.4 L612 139.1 L613 137.7 L614 136.4 L615 135 L616 133.7 L617 132.4 L618 131 L619 129.7 L620 128.4 L621 127.1 L622 125.8 L622.7 124.9" fill="none" stroke="#f23645" stroke-width="0.72" stroke-linejoin="round"/><path d="M345 305 L346 304.2 L347 303.3 L348 302.4 L349 301.6 L350 300.7 L351 299.8 L352 298.8 L353 297.9 L354 297 L355 296 L356 295 L357 294 L358 293 L359 291.9 L360 290.8 L361 289.8 L362 288.8 L363 287.8 L364 286.8 L365 285.9 L366 285 L367 284.1 L368 283.2 L369 282.3 L370 281.6 L371 280.8 L372 280.1 L373 279.3 L374 278.7 L375 278 L376 277.4 L377 276.9 L378 276.5 L379 276.1 L380 275.7 L381 275.4 L382 275.1 L383 275 L384 274.9 L385 274.8 L386 274.8 L387 274.8 L388 274.7 L389 274.7 L390 274.6 L391 274.6 L392 274.5 L393 274.4 L394 274.2 L395 274 L396 273.7 L397 273.4 L398 273.1 L399 272.8 L400 272.6 L401 272.3 L402 272.1 L403 271.8 L404 271.6 L405 271.3 L406 271.1 L407 270.8 L408 270.6 L409 270.3 L410 270 L411 269.7 L412 269.3 L413 269 L414 268.6 L415 268.2 L416 267.8 L417 267.3 L418 266.8 L419 266.3 L420 265.7 L421 265.1 L422 264.5 L423 263.9 L424 263.3 L425 262.7 L426 262.1 L427 261.5 L428 260.9 L429 260.2 L430 259.6 L431 259 L432 258.4 L433 257.7 L434 257.1 L435 256.5 L436 256 L437 255.4 L438 254.8 L439 254.2 L440 253.7 L441 253.1 L442 252.7 L443 252.5 L444 252.3 L445 252.1 L446 252 L447 251.8 L448 251.7 L449 251.6 L450 251.5 L451 251.5 L452 251.5 L453 251.5 L454 251.6 L455 251.7 L456 251.8 L457 251.9 L458 252 L459 252.1 L460 252.2 L461 252.3 L462 252.4 L463 252.5 L464 252.5 L465 252.5 L466 252.4 L467 252.2 L468 252 L469 251.7 L470 251.4 L471 251.1 L472 250.7 L473 250.4 L474 249.9 L475 249.4 L476 248.8 L477 248.1 L478 247.4 L479 246.8 L480 246.1 L481 245.5 L482 244.9 L483 244.2 L484 243.6 L485 243 L486 242.4 L487 241.7 L488 241 L489 240.3 L490 239.6 L491 238.8 L492 237.9 L493 237.1 L494 236.1 L495 235.2 L496 234.2 L497 233.3 L498 232.3 L499 231.3 L500 230.3 L501 229.2 L502 228.1 L503 227.1 L504 226 L505 225 L506 224 L507 223 L508 222.1 L509 221.2 L510 220.2 L511 219.3 L512 218.4 L513 217.4 L514 216.5 L515 215.5 L516 214.5 L517 213.5 L518 212.6 L519 211.7 L520 210.8 L521 210 L522 209.2 L523 208.4 L524 207.6 L525 206.9 L526 206.4 L527 206 L528 205.7 L529 205.4 L530 205.2 L531 205.2 L532 205.2 L533 205.2 L534 205.2 L535 205.2 L536 205.2 L537 205.2 L538 205.2 L539 205.2 L540 205.2 L541 205.2 L542 205.1 L543 205.1 L544 205 L545 205 L546 204.9 L547 204.7 L548 204.5 L549 204.2 L550 204 L551 203.8 L552 203.5 L553 203.2 L554 202.8 L555 202.5 L556 202 L557 201.5 L558 200.9 L559 200.1 L560 199.3 L561 198.4 L562 197.5 L563 196.6 L564 195.8 L565 194.8 L566 193.8 L567 192.5 L568 190.7 L569 188.3 L570 185.5 L571 182.8 L572 180.3 L573 177.7 L574 175.1 L575 172.6 L576 170.3 L577 168.4 L578 166.8 L579 165.2 L580 163.8 L581 162.5 L582 161.3 L583 160.1 L584 158.9 L585 157.8 L586 156.7 L587 155.7 L588 154.7 L589 153.7 L590 152.8 L591 151.9 L592 151.1 L593 150.3 L594 149.7 L595 149.1 L596 148.4 L597 147.7 L598 146.9 L599 146 L600 145 L601 143.8 L602 142.3 L603 140.6 L604 138.8 L605 136.9 L606 135 L607 133.1 L608 131.2 L609 129.3 L610 127.3 L611 125.3 L612 123.2 L613 121.2 L614 119.1 L615 117 L616 115 L617 113 L618 111 L619 108.9 L620 106.9 L621 104.9 L622 102.8 L622.7 101.4" fill="none" stroke="#000000" stroke-width="0.72" stroke-linejoin="round"/><path d="M340 300 L341 299.6 L342 299.2 L343 298.7 L344 298.1 L345 297.5 L346 296.9 L347 296.2 L348 295.5 L349 294.8 L350 294 L351 293.2 L352 292.2 L353 291.2 L354 290.1 L355 289 L356 287.8 L357 286.7 L358 285.5 L359 284.3 L360 283.1 L361 282 L362 280.8 L363 279.6 L364 278.5 L365 277.5 L366 276.7 L367 276.2 L368 275.8 L369 275.4 L370 275.1 L371 274.8 L372 274.5 L373 274.2 L374 274 L375 273.7 L376 273.5 L377 273.4 L378 273.4 L379 273.4 L380 273.5 L381 273.6 L382 273.7 L383 273.8 L384 273.9 L385 274 L386 274.1 L387 274.3 L388 274.5 L389 274.7 L390 274.8 L391 274.9 L392 275 L393 274.9 L394 274.7 L395 274.3 L396 273.7 L397 273.2 L398 272.6 L399 272.2 L400 271.7 L401 271.2 L402 270.7 L403 270.1 L404 269.6 L405 269.1 L406 268.6 L407 268.1 L408 267.6 L409 267.2 L410 266.8 L411 266.4 L412 266 L413 265.7 L414 265.3 L415 265 L416 264.6 L417 264.2 L418 263.8 L419 263.4 L420 263 L421 262.5 L422 261.9 L423 261.3 L424 260.6 L425 259.8 L426 259 L427 258.1 L428 257.3 L429 256.5 L430 255.7 L431 254.9 L432 254.1 L433 253.2 L434 252.3 L435 251.5 L436 250.7 L437 250.1 L438 249.5 L439 249.2 L440 248.8 L441 248.5 L442 248.3 L443 248.2 L444 248.9 L445 250.3 L446 251.7 L447 252.5 L448 252.5 L449 252.5 L450 252.5 L451 252.5 L452 252.5 L453 252.5 L454 252.5 L455 252.5 L456 252.5 L457 252.5 L458 252.5 L459 252.5 L460 252.5 L461 252.5 L462 252.4 L463 252.4 L464 252.3 L465 252.1 L466 252 L467 251.8 L468 251.6 L469 251.4 L470 250.9 L471 250.3 L472 249.4 L473 248.4 L474 247.4 L475 246.2 L476 244.7 L477 242.8 L478 240.8 L479 239.4 L480 238.5 L481 237.7 L482 237 L483 236.4 L484 235.8 L485 235.3 L486 234.7 L487 234.1 L488 233.4 L489 232.7 L490 232 L491 231.4 L492 230.7 L493 230 L494 229.2 L495 228.4 L496 227.4 L497 226.4 L498 225.1 L499 223.4 L500 221.6 L501 219.8 L502 218.3 L503 217 L504 215.7 L505 214.5 L506 213.3 L507 212.2 L508 211.1 L509 209.9 L510 208.9 L511 208.3 L512 208.2 L513 208.1 L514 208.1 L515 208 L516 207.9 L517 207.8 L518 207.7 L519 207.6 L520 207.5 L521 207.3 L522 207 L523 206.5 L524 206 L525 205.5 L526 205.2 L527 205.2 L528 205.3 L529 205.5 L530 205.7 L531 205.8 L532 205.9 L533 205.9 L534 205.8 L535 205.8 L536 205.7 L537 205.6 L538 205.5 L539 205.3 L540 205.2 L541 205.2 L542 205.1 L543 205 L544 204.9 L545 204.8 L546 204.7 L547 204.6 L548 204.5 L549 204.4 L550 204.3 L551 204.2 L552 204 L553 203.4 L554 201.8 L555 199.7 L556 197.5 L557 195.6 L558 193.9 L559 192.2 L560 190.4 L561 188.6 L562 186.6 L563 184.5 L564 182.1 L565 179.4 L566 176.5 L567 173.5 L568 170.4 L569 167.3 L570 164 L571 160.1 L572 156.9 L573 155.2 L574 154.1 L575 153.2 L576 152.7 L577 152.5 L578 152.5 L579 152.5 L580 152.5 L581 152.5 L582 152.5 L583 152.4 L584 152.1 L585 151.7 L586 151.1 L587 150.4 L588 149.7 L589 149 L590 148.1 L591 147.1 L592 145.9 L593 144.6 L594 143.2 L595 141.8 L596 140.3 L597 138.6 L598 136.9 L599 135.1 L600 133.3 L601 131.6 L602 129.8 L603 128 L604 125.9 L605 123.5 L606 120.4 L607 116.8 L608 113.1 L609 109 L610 105.8 L611 103 L612 100.8 L613 99.1 L614 97.5 L615 95.6 L616 93.5 L617 91.5 L618 89.9 L619 88.6 L620 87.5 L621 86.4 L622 85.4 L622.7 84.8" fill="none" stroke="#4caf50" stroke-width="0.68" stroke-linejoin="round"/></g><path d="M0 82H717" stroke="#f23645" stroke-width="0.8" stroke-opacity="0.55" stroke-dasharray="1 1"/><g transform="translate(622.5 279.5)"><circle r="6.15" fill="#fff" stroke="#a93ccd" stroke-width="1.2"/><path d="M1.4 -4.4L-2.9 0.7H-0.3L-1.4 4.4L2.9 -0.7H0.3Z" fill="#a93ccd"/></g></svg>
<div class="t leg" style="top:6.7px"><span>TVC · </span><span style="font-size:7.85px;unicode-bidi:bidi-override;direction:ltr">الذهب (دولار أمريكي/أونصة) · 1يوم</span></div>
<div class="t leg" style="top:18.5px">MA (20, close, 0, SMA, 5)</div>
<div class="t leg" style="top:29.2px">MA (50, close, 0, SMA, 5)</div>
<div class="t leg" style="top:39.9px">MA (100, close, 0, SMA, 5)</div>
<div class="t leg" style="top:50.5px">MA (200, close, 0, SMA, 5)</div>
<div class="t leg" style="top:296.4px">RSI (14, close)</div>
<div class="t ax" style="top:16.3px">6,000.000</div>
<div class="t ax" style="top:44px">5,600.000</div>
<div class="t ax" style="top:71.7px">5,200.000</div>
<div class="t ax" style="top:99.3px">4,800.000</div>
<div class="t ax" style="top:127px">4,400.000</div>
<div class="t ax" style="top:154.6px">4,000.000</div>
<div class="t ax" style="top:182.2px">3,600.000</div>
<div class="t ax" style="top:209.9px">3,200.000</div>
<div class="t ax" style="top:237.6px">2,800.000</div>
<div class="t ax" style="top:265.2px">2,400.000</div>
<div class="t ax" style="top:312.5px">80.00</div>
<div class="t ax" style="top:346px">60.00</div>
<div class="t ax" style="top:379.5px">40.00</div>
<div style="position:absolute;left:719.5px;top:1.9px;width:45.3px;height:17.6px;background:#fff;border:1px solid #f0f3fa;border-radius:3px;box-sizing:border-box"></div>
<div class="t" style="left:725.2px;top:6.7px;font-size:8.1px">USD</div>
<div class="lb" style="top:77px;height:9.7px;padding-top:0.7px;background:#f23645;color:#fff;letter-spacing:-0.25px">5,114.610</div>
<div class="lb" style="top:87.3px;height:10.2px;padding-top:0.9px;background:#4caf50;color:#fff;">5,074.856</div>
<div class="lb" style="top:97.5px;height:11.5px;padding-top:1.6px;background:#000;color:#fff;letter-spacing:-0.15px">4,842.752</div>
<div class="lb" style="top:120.2px;height:10.2px;padding-top:0.9px;background:#f23645;color:#fff;letter-spacing:-0.22px">4,493.218</div>
<div class="lb" style="top:156px;height:10.4px;padding-top:1.1px;background:#ffeb3b;color:#000;letter-spacing:-0.25px">3,975.126</div>
<div class="lb" style="top:356.1px;height:10.7px;width:30.4px;padding-top:1.3px;background:#a55fd6;color:#fff">53.35</div>
<div class="t tm" style="left:50.4px;top:416.6px"><b>2022</b></div>
<div class="t tm" dir="rtl" style="left:118.4px;top:416.2px;font-size:7.6px">يوليو</div>
<div class="t tm" style="left:187.6px;top:416.6px"><b>2023</b></div>
<div class="t tm" dir="rtl" style="left:255.6px;top:416.2px;font-size:7.6px">يوليو</div>
<div class="t tm" style="left:324.7px;top:416.6px"><b>2024</b></div>
<div class="t tm" dir="rtl" style="left:392.2px;top:416.2px;font-size:7.6px">يوليو</div>
<div class="t tm" style="left:462.1px;top:416.6px"><b>2025</b></div>
<div class="t tm" dir="rtl" style="left:529.8px;top:416.2px;font-size:7.6px">يوليو</div>
<div class="t tm" style="left:599.8px;top:416.6px"><b>2026</b></div>
<div class="t tm" dir="rtl" style="left:666.5px;top:416.2px;font-size:7.6px">يوليو</div>
</body></html>
